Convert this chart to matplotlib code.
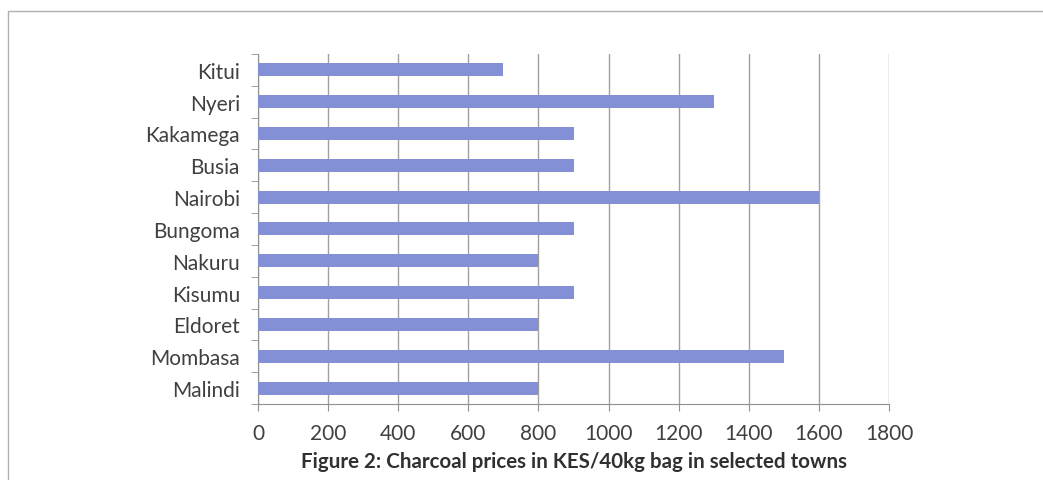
import numpy as np
from matplotlib import pyplot as plt
from matplotlib.patches import Rectangle

# charcoal prices per 40kg bag, KES
towns = ['Kitui', 'Nyeri', 'Kakamega', 'Busia', 'Nairobi', 'Bungoma',
         'Nakuru', 'Kisumu', 'Eldoret', 'Mombasa', 'Malindi']
prices = [700, 1300, 900, 900, 1600, 900, 800, 900, 800, 1500, 800]
xticks = [0, 200, 400, 600, 800, 1000, 1200, 1400, 1600, 1800]

plt.rcParams['font.family'] = ['Lato', 'DejaVu Sans']

fig = plt.figure(figsize=(10.43, 4.81), dpi=100)
ax = fig.add_axes([0.2474, 0.158, 0.605, 0.728])

y = np.arange(len(towns))
ax.barh(y, prices, height=0.41, color='#8490d6', zorder=3)

ax.set_xlim(0, 1800)
ax.set_ylim(len(towns) - 0.5, -0.5)
ax.set_xticks(xticks)
ax.set_yticks(y)
ax.set_yticklabels(towns)
# category boundary ticks on the y axis
ax.set_yticks(np.arange(len(towns) + 1) - 0.5, minor=True)
ax.tick_params(axis='y', which='major', length=0, pad=13)
ax.tick_params(axis='y', which='minor', length=5, color='#909090', direction='out')
ax.tick_params(axis='x', length=5, color='#909090', pad=9)
ax.tick_params(labelsize=15, labelcolor='#404040')

ax.grid(axis='x', color='#a0a0a0', linewidth=1, zorder=0)
for s in ['top', 'right']:
    ax.spines[s].set_visible(False)
for s in ['left', 'bottom']:
    ax.spines[s].set_color('#909090')

fig.text(0.55, 0.04, 'Figure 2: Charcoal prices in KES/40kg bag in selected towns',
         ha='center', va='center', fontsize=14.8, fontweight='bold', color='#303030')

# page frame
fig.patches.append(Rectangle((0.0077, -0.1), 1.1, 1.075, transform=fig.transFigure,
                             fill=False, edgecolor='#b0b0b0', linewidth=1))

fig.savefig('out.png', dpi=100)
